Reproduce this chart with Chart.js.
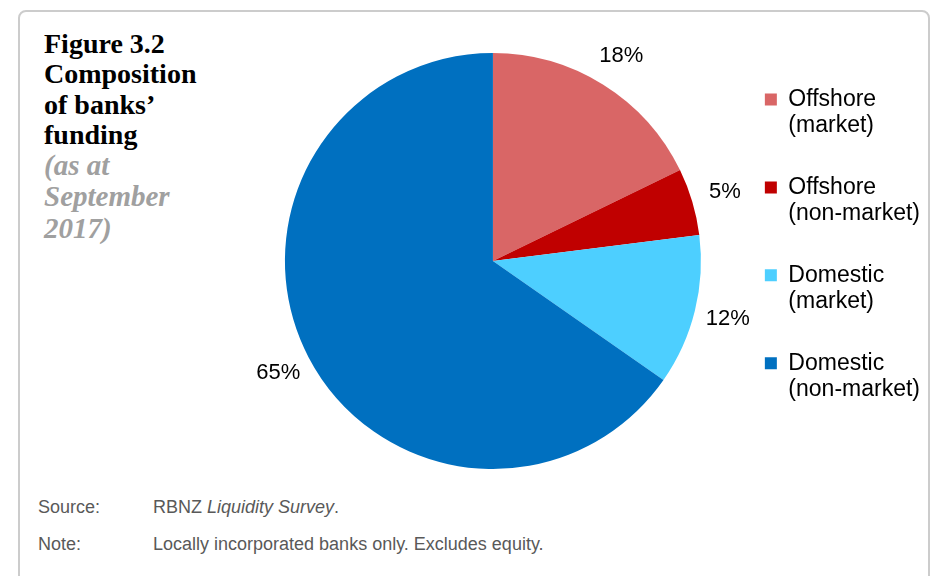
<!DOCTYPE html>
<html>
<head>
<meta charset="utf-8">
<script src="https://cdn.jsdelivr.net/npm/chart.js@4.4.1/dist/chart.umd.min.js"></script>
<style>
	body { margin: 0; background: #fff; width: 930px; height: 576px; overflow: hidden; position: relative; }
	#frame { position: absolute; left: 18px; top: 10px; width: 908px; height: 620px; border: 2px solid #cccccc; border-radius: 8px; }
	#title { position: absolute; left: 44px; top: 29px; font-family: 'Liberation Serif', serif; font-weight: bold; font-size: 28px; line-height: 30.3px; color: #000; }
	#title .sub { color: #a0a0a0; font-style: italic; font-size: 29px; }
	.foot { position: absolute; left: 38px; font-family: 'Liberation Sans', Arial, sans-serif; font-size: 18px; line-height: 22px; color: #595959; }
	.foot span.k { display: inline-block; width: 115px; }
	#chart { position: absolute; left: 0; top: 0; }
</style>
</head>
<body>
<div id="frame"></div>
<div id="title">Figure 3.2<br>Composition<br>of banks’<br>funding<br><span class="sub">(as at<br>September<br>2017)</span></div>
<div class="foot" style="top:496px"><span class="k">Source:</span>RBNZ <i>Liquidity Survey</i>.</div>
<div class="foot" style="top:533px"><span class="k">Note:</span>Locally incorporated banks only. Excludes equity.</div>
<canvas id="chart" width="930" height="576"></canvas>
<script>
// funding shares, per cent
const categories = [['Offshore', '(market)'], ['Offshore', '(non-market)'], ['Domestic', '(market)'], ['Domestic', '(non-market)']];
const shares = [17.8, 5.2, 11.7, 65.3];
const colours = ['#d96666', '#c00000', '#4dcfff', '#0070c0'];

// percentage labels outside each slice
const sliceLabels = {
	id: 'sliceLabels',
	afterDatasetsDraw(chart) {
		const ctx = chart.ctx;
		const meta = chart.getDatasetMeta(0);
		ctx.save();
		ctx.font = '22px "Liberation Sans", Arial, sans-serif';
		ctx.fillStyle = '#000';
		ctx.textAlign = 'center';
		ctx.textBaseline = 'middle';
		meta.data.forEach((arc, i) => {
			const p = arc.getProps(['x', 'y', 'startAngle', 'endAngle', 'outerRadius']);
			const mid = (p.startAngle + p.endAngle) / 2;
			const r = p.outerRadius + 34;
			ctx.fillText(Math.round(shares[i]) + '%', p.x + Math.cos(mid) * r, p.y + Math.sin(mid) * r);
		});
		ctx.restore();
	}
};

const ctx = document.getElementById('chart').getContext('2d');
const myChart = new Chart(ctx, {
	type: 'pie',
	data: {
		labels: categories,
		datasets: [{
			data: shares,
			backgroundColor: colours,
			borderWidth: 0
		}]
	},
	options: {
		responsive: false,
		animation: false,
		events: [],
		devicePixelRatio: 1,
		layout: { padding: { left: 256, right: 0, top: 53, bottom: 107 } },
		plugins: {
			tooltip: { enabled: false },
			legend: {
				position: 'right',
				align: 'start',
				labels: {
					boxWidth: 12,
					boxHeight: 12,
					padding: 35,
					color: '#000',
					font: { family: '"Liberation Sans", Arial, sans-serif', size: 23, lineHeight: 1.15 }
				}
			}
		}
	},
	plugins: [sliceLabels]
});
</script>
</body>
</html>
